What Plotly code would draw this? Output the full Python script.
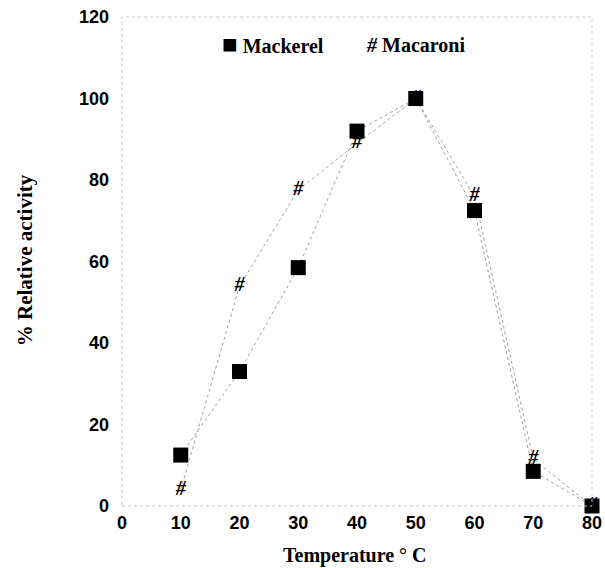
import plotly.graph_objects as go

temperature = [10, 20, 30, 40, 50, 60, 70, 80]
mackerel = [12.5, 33, 58.5, 92, 100, 72.5, 8.5, 0]
macaroni_temp = [10, 20, 30, 40, 50, 60, 70, 80]
macaroni = [4, 54, 77.5, 89, 100, 76, 11.5, 0]

x_ticks = [0, 10, 20, 30, 40, 50, 60, 70, 80]
y_ticks = [0, 20, 40, 60, 80, 100, 120]

fig = go.Figure()

fig.add_trace(go.Scatter(
    x=macaroni_temp, y=macaroni, mode="lines+text", text=["#"] * len(macaroni),
    textposition="middle center",
    textfont=dict(family="Liberation Serif", size=20, color="black", weight="bold", style="italic"),
    line=dict(color="#a0a0a0", width=1, dash="dot"),
    name="Macaroni", showlegend=False, cliponaxis=False,
))
fig.add_trace(go.Scatter(
    x=temperature, y=mackerel, mode="lines+markers",
    marker=dict(symbol="square", size=15, color="black"),
    line=dict(color="#a0a0a0", width=1, dash="dot"),
    name="Mackerel", showlegend=False, cliponaxis=False,
))

# faint frame
fig.add_shape(type="rect", xref="paper", yref="paper", x0=0, y0=0, x1=1, y1=1,
              line=dict(color="#c8c8c8", width=1, dash="dot"))

# legend as annotations
fig.add_annotation(xref="paper", yref="paper", x=0.208, y=0.943, xanchor="left", yanchor="middle",
                   text="<span style='font-size:26px'>■</span> Mackerel", showarrow=False,
                   font=dict(family="Liberation Serif", size=20, color="black", weight="bold"))
fig.add_annotation(xref="paper", yref="paper", x=0.515, y=0.943, xanchor="left", yanchor="middle",
                   text="<i>#</i> Macaroni", showarrow=False,
                   font=dict(family="Liberation Serif", size=20, color="black", weight="bold"))

# axis titles as annotations
fig.add_annotation(xref="paper", yref="paper", x=0.496, y=-0.101, xanchor="center", yanchor="middle",
                   text="Temperature ° C", showarrow=False,
                   font=dict(family="Liberation Serif", size=20, color="black", weight="bold"))
fig.add_annotation(xref="paper", yref="paper", x=-0.206, y=0.503, xanchor="center", yanchor="middle",
                   text="% Relative activity", showarrow=False, textangle=-90,
                   font=dict(family="Liberation Serif", size=21, color="black", weight="bold"))

fig.update_xaxes(range=[0, 80], tickvals=x_ticks, ticks="", showgrid=False, zeroline=False,
                 showline=False, ticklabelstandoff=4, automargin=False, ticklabeloverflow="allow",
                 tickfont=dict(family="Liberation Sans", size=18, color="black", weight="bold"))
fig.update_yaxes(range=[0, 120], tickvals=y_ticks, ticks="", showgrid=False, zeroline=False,
                 showline=False, ticklabelstandoff=12, automargin=False, ticklabeloverflow="allow",
                 tickfont=dict(family="Liberation Sans", size=18, color="black", weight="bold"))

fig.update_layout(width=605, height=568, margin=dict(l=122, r=13, t=17, b=62),
                  plot_bgcolor="white", paper_bgcolor="white", showlegend=False)

fig.write_html("out.html", config={"displayModeBar": False},
               post_script="document.body.style.margin='0';document.body.style.overflow='hidden';")
